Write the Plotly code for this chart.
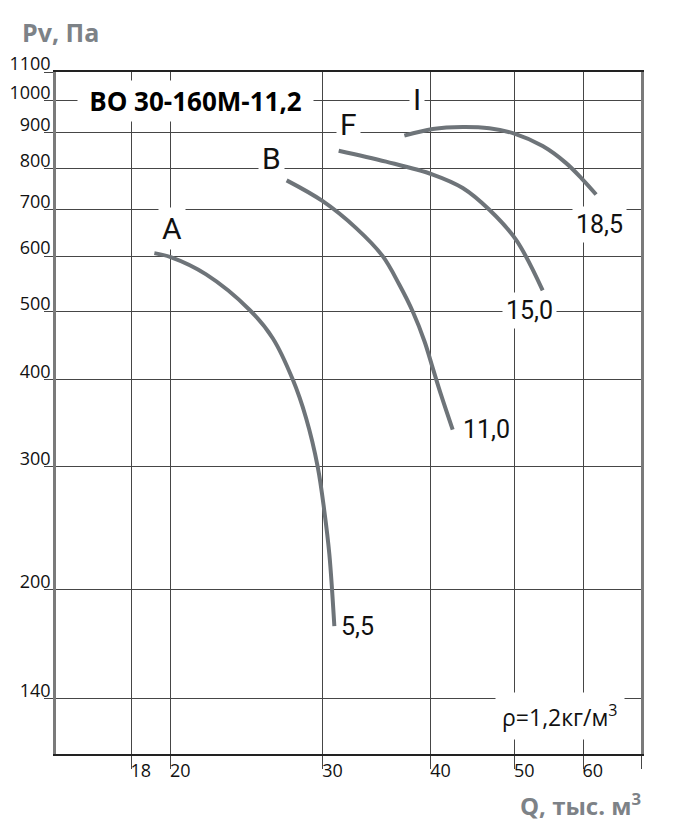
import numpy as np
import plotly.graph_objects as go

# ---- data ----
q_A = [19.15, 20.0, 21.98, 24.67, 26.25, 27.68, 28.69, 29.59, 30.12, 30.52, 30.93]
p_A = [606, 598, 565, 503, 458, 400, 352, 300, 259, 225, 177.5]
q_B = [27.24, 29.99, 32.78, 35.18, 36.78, 38.11, 39.32, 40.2, 41.1, 42.39]
p_B = [770, 719, 658, 600, 546, 500, 453.5, 415, 380, 339]
q_F = [31.29, 35.5, 40.2, 43.54, 46.74, 50.19, 53.87]
p_F = [849, 819, 785, 751, 699, 633, 536]
q_I = [37.27, 40.2, 43.54, 46.74, 49.96, 53.87, 57.34, 59.93, 62.11]
p_I = [892, 912, 918, 914, 898, 862, 815, 772, 735]

curve_letters = ["A", "B", "F", "I"]
curve_power = ["5,5", "11,0", "15,0", "18,5"]

x_tickvals = [18, 20, 30, 40, 50, 60, 70]
x_ticktext = ["18", "20", "30", "40", "50", "60", ""]
y_tickvals = [140, 200, 300, 400, 500, 600, 700, 800, 900, 1000, 1100]
y_ticktext = ["140", "200", "300", "400", "500", "600", "700", "800", "900", "1000", "1100"]

title_text = "ВО 30-160М-11,2"
y_title = "Pv, Па"
x_title = "Q, тыс. м<sup>3</sup>"
density_text = "ρ=1,2кг/м<sup>3</sup>"

# ---- styling ----
CURVE = "#6e7479"
GRID = "#464646"
NARROW = "Roboto, Liberation Sans, sans-serif"
MAIN = "Open Sans, Noto Sans, sans-serif"

curves = [(q_A, p_A), (q_B, p_B), (q_F, p_F), (q_I, p_I)]
letter_shift = [(18, 25), (-15, 22), (10, 26), (13, 36)]
power_shift = [(23, 0), (34, 0), (-13, -20), (3, -30)]

fig = go.Figure()
for q, p in curves:
    fig.add_trace(go.Scatter(x=q, y=p, mode="lines",
                             line=dict(color=CURVE, width=4, shape="spline", smoothing=1.0),
                             hoverinfo="skip", showlegend=False))

annotations = []
for (q, p), lab, (dx, dy) in zip(curves, curve_letters, letter_shift):
    annotations.append(dict(x=np.log10(q[0]), y=np.log10(p[0]), xref="x", yref="y",
                            xanchor="center", yanchor="middle",
                            text=lab, showarrow=False, xshift=dx, yshift=dy,
                            font=dict(family=NARROW, size=30, color="#111"),
                            bgcolor="white", borderpad=3))
for (q, p), lab, (dx, dy) in zip(curves, curve_power, power_shift):
    annotations.append(dict(x=np.log10(q[-1]), y=np.log10(p[-1]), xref="x", yref="y",
                            xanchor="center", yanchor="middle",
                            text=lab, showarrow=False, xshift=dx, yshift=dy,
                            font=dict(family=NARROW, size=25, color="#111"),
                            bgcolor="white", borderpad=3))

# page body adds an 8px offset; the figure is sized to compensate
OFF = 8
W, H = 677 - OFF, 835 - OFF
L, T = 56 - OFF, 72 - OFF
R, B = 36, 81
pw, ph = W - L - R, H - T - B

def px(xp):
    return (xp - 56) / pw

def py(yp):
    return (754 - yp) / ph

annotations.append(dict(x=px(195), y=py(101), xref="paper", yref="paper", text="<b>" + title_text + "</b>",
                        xanchor="center", yanchor="middle",
                        showarrow=False, font=dict(family=MAIN, size=26, color="#000"),
                        bgcolor="white", width=235, height=40, borderpad=0))
annotations.append(dict(x=px(20), y=py(32), xref="paper", yref="paper", text="<b>" + y_title + "</b>",
                        showarrow=False, xanchor="left", yanchor="middle",
                        font=dict(family=MAIN, size=25, color="#7d8287")))
annotations.append(dict(x=px(643), y=py(804), xref="paper", yref="paper", text="<b>" + x_title + "</b>",
                        showarrow=False, xanchor="right", yanchor="middle",
                        font=dict(family=MAIN, size=24, color="#7d8287")))
annotations.append(dict(x=px(560), y=py(716), xref="paper", yref="paper", text=density_text,
                        showarrow=False, xanchor="center", yanchor="middle",
                        font=dict(family=MAIN, size=23, color="#111"),
                        bgcolor="white", borderpad=6))

fig.update_layout(
    width=W, height=H,
    margin=dict(l=L, r=R, t=T, b=B, autoexpand=False),
    paper_bgcolor="white", plot_bgcolor="white",
    annotations=annotations,
    showlegend=False,
    xaxis=dict(type="log", range=[np.log10(70) - pw / 864.5, np.log10(70)],
               tickvals=x_tickvals, ticktext=x_ticktext, automargin=False,
               showgrid=True, gridcolor=GRID, gridwidth=1.2,
               ticks="outside", ticklen=13, tickwidth=1.2, tickcolor=GRID,
               ticklabelposition="outside right", ticklabelstandoff=0, ticklabelshift=-2,
               tickfont=dict(family=MAIN, size=18, color="#111"),
               showline=True, linecolor="#222", linewidth=1.5, mirror=True, zeroline=False),
    yaxis=dict(type="log", range=[np.log10(1100) - ph / 699.6, np.log10(1100)],
               tickvals=y_tickvals, ticktext=y_ticktext, automargin=False,
               showgrid=True, gridcolor=GRID, gridwidth=1.2,
               ticks="outside", ticklen=9, tickwidth=1.2, tickcolor=GRID,
               ticklabelposition="outside", ticklabelstandoff=-10, ticklabelshift=-8,
               tickfont=dict(family=MAIN, size=18, color="#111"),
               showline=True, linecolor="#7a7a7a", linewidth=2.5, mirror=True, zeroline=False),
)

fig.write_html("out.html")
